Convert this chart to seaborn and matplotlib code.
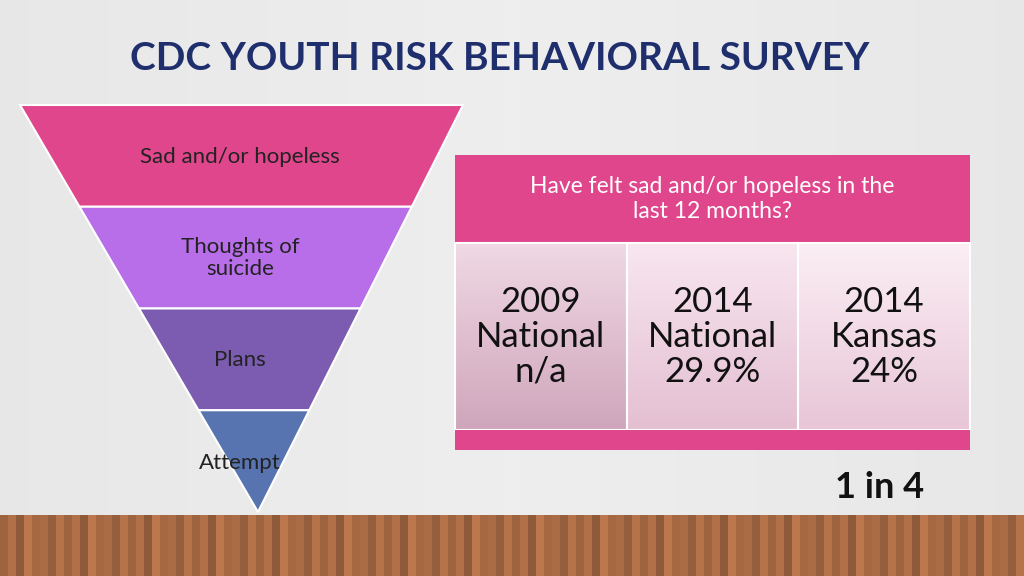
import numpy as np
import matplotlib.pyplot as plt
import seaborn as sns
from matplotlib.patches import Polygon, Rectangle
from matplotlib.colors import LinearSegmentedColormap

sns.set_theme(style="white")
plt.rcParams['font.family'] = ['Lato', 'DejaVu Sans']

# Data
funnel_labels = ['Sad and/or hopeless', 'Thoughts of\nsuicide', 'Plans', 'Attempt']
funnel_colors = ['#e0468b', '#b86ee8', '#7b5cb0', '#5874b0']
years = ['2009', '2014', '2014']
regions = ['National', 'National', 'Kansas']
values = ['n/a', '29.9%', '24%']
question = 'Have felt sad and/or hopeless in the\nlast 12 months?'

fig = plt.figure(figsize=(10.24, 5.76), dpi=100)
ax = fig.add_axes([0, 0, 1, 1])
ax.set_xlim(0, 1024)
ax.set_ylim(576, 0)
ax.axis('off')

# background gradient
grad = np.linspace(0, 1, 256)[None, :]
ax.imshow(0.93 - 0.05 * np.abs(grad - 0.5), extent=[0, 1024, 515, 0],
          cmap='gray', vmin=0, vmax=1, aspect='auto')
# wooden floor
planks = np.tile(np.array([0.55, 0.62, 0.5, 0.66, 0.58, 0.6, 0.52, 0.64]), 16)[None, :]
ax.imshow(planks, extent=[0, 1024, 576, 515], cmap='copper', vmin=0, vmax=1.1, aspect='auto')

ax.text(500, 58, 'CDC YOUTH RISK BEHAVIORAL SURVEY', ha='center', va='center',
        fontsize=28, fontweight='bold', color='#1f2f6e')

# funnel
top, bottom, left, right, apex = 105, 512, 20, 463, 258
n = len(funnel_labels)
h = (bottom - top) / n
def xs(y):
    t = (y - top) / (bottom - top)
    return left + (apex - left) * t, right + (apex - right) * t
label_y = [157, 258, 360, 463]
for i, (lab, col) in enumerate(zip(funnel_labels, funnel_colors)):
    y0, y1 = top + i * h, top + (i + 1) * h
    l0, r0 = xs(y0)
    l1, r1 = xs(y1)
    ax.add_patch(Polygon([(l0, y0), (r0, y0), (r1, y1), (l1, y1)], closed=True,
                         facecolor=col, edgecolor='white', lw=1.5))
    ax.text(240, label_y[i], lab, ha='center', va='center', fontsize=16,
            color='#222222', linespacing=1.1)

# table
tx0, tx1 = 455, 970
ax.add_patch(Rectangle((tx0, 155), tx1 - tx0, 88, facecolor='#e0468b', edgecolor='none'))
ax.text((tx0 + tx1) / 2, 199, question, ha='center', va='center', fontsize=16.5,
        color='white', linespacing=1.25)
cw = (tx1 - tx0) / len(years)
shades = [('#f0d8e4', '#cfa6bb'), ('#f8e6ef', '#e4bfd2'), ('#fbeef4', '#e8c6d7')]
for i, (yr, rg, v) in enumerate(zip(years, regions, values)):
    x = tx0 + i * cw
    cm = LinearSegmentedColormap.from_list('c', shades[i])
    ax.imshow(np.linspace(0, 1, 100)[:, None], extent=[x, x + cw, 430, 243], cmap=cm,
              aspect='auto')
    ax.add_patch(Rectangle((x, 243), cw, 187, fill=False, edgecolor='white', lw=1.5))
    ax.text(x + cw / 2, 337, f'{yr}\n{rg}\n{v}', ha='center', va='center',
            fontsize=25, color='#111111', linespacing=1.1)
ax.add_patch(Rectangle((tx0, 430), tx1 - tx0, 20, facecolor='#e0468b', edgecolor='none'))

ax.text(880, 487, '1 in 4', ha='center', va='center', fontsize=26,
        fontweight='bold', color='#111111')

fig.savefig('out.png', dpi=100)
